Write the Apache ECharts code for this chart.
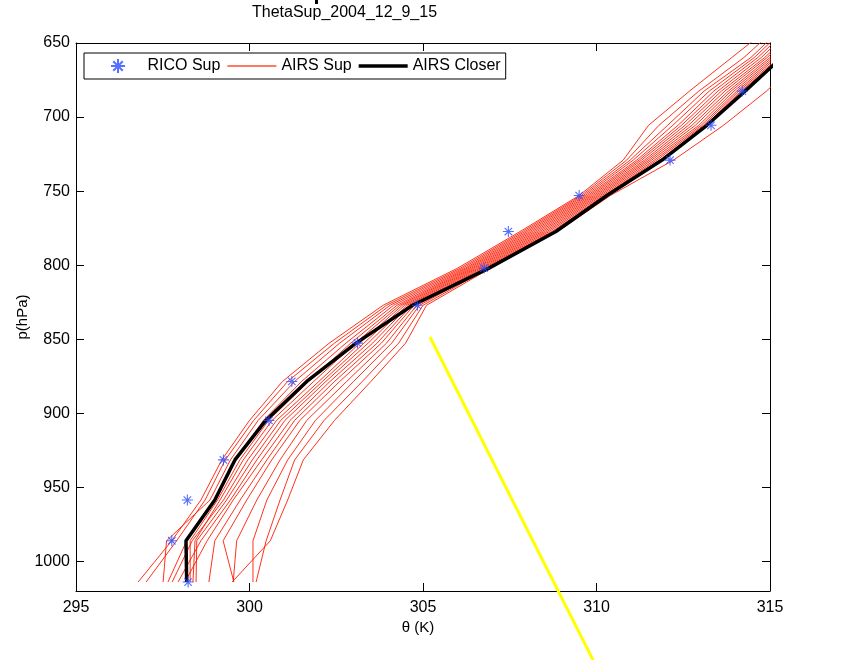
<!DOCTYPE html>
<html><head><meta charset="utf-8">
<script src="https://cdn.jsdelivr.net/npm/echarts@6/dist/echarts.min.js"></script>
<style>html,body{margin:0;padding:0;background:#fff}#c{width:844px;height:660px}</style>
</head><body><div id="c"></div>
<script>
// pressure levels (hPa)
const levels = [1013.95, 986.07, 958.59, 931.5, 904.81, 878.52, 852.61, 827.1, 802.0, 777.28, 752.97, 729.06, 705.57, 682.47, 659.79, 637.5];
// AIRS support profiles, theta (K) at each level
const airs01 = [296.79, 297.76, 298.6, 299.2, 300.0, 300.95, 302.3, 303.85, 306.0, 307.8, 309.5, 310.77, 311.5, 312.68, 313.9, 315.1];
const airs02 = [297.02, 297.9, 298.72, 299.3, 300.12, 301.1, 302.45, 303.95, 306.08, 307.87, 309.56, 310.87, 311.8, 312.95, 314.25, 315.3];
const airs03 = [297.51, 297.61, 298.86, 299.45, 300.25, 301.3, 302.6, 304.05, 306.15, 307.94, 309.62, 310.97, 312.05, 313.1, 314.45, 315.45];
const airs04 = [297.65, 298.19, 298.98, 299.6, 300.4, 301.5, 302.78, 304.15, 306.22, 308.01, 309.68, 311.06, 312.2, 313.25, 314.55, 315.55];
const airs05 = [298.29, 298.29, 299.08, 299.72, 300.55, 301.7, 302.92, 304.25, 306.28, 308.08, 309.74, 311.16, 312.35, 313.38, 314.65, 315.65];
const airs06 = [298.37, 298.43, 299.15, 299.82, 300.65, 301.85, 303.05, 304.33, 306.34, 308.15, 309.8, 311.23, 312.45, 313.5, 314.75, 315.75];
const airs07 = [297.77, 298.35, 299.25, 299.95, 300.78, 302.0, 303.18, 304.4, 306.4, 308.22, 309.86, 311.3, 312.55, 313.6, 314.85, 315.85];
const airs08 = [298.46, 298.48, 299.34, 300.08, 300.9, 302.1, 303.3, 304.47, 306.46, 308.29, 309.92, 311.38, 312.65, 313.7, 314.92, 315.92];
const airs09 = [297.94, 298.6, 299.45, 300.21, 301.02, 302.2, 303.42, 304.54, 306.52, 308.36, 309.98, 311.45, 312.75, 313.8, 315.0, 316.0];
const airs10 = [298.14, 298.78, 299.53, 300.35, 301.17, 302.32, 303.55, 304.6, 306.58, 308.43, 310.04, 311.52, 312.85, 313.88, 315.07, 316.07];
const airs11 = [298.83, 299.0, 299.73, 300.5, 301.3, 302.45, 303.68, 304.67, 306.64, 308.5, 310.1, 311.59, 312.95, 313.96, 315.14, 316.14];
const airs12 = [299.55, 299.24, 299.92, 300.64, 301.45, 302.6, 303.8, 304.74, 306.7, 308.57, 310.16, 311.67, 313.02, 314.04, 315.2, 316.2];
const airs13 = [299.53, 299.63, 300.21, 300.88, 301.65, 302.8, 303.95, 304.82, 306.76, 308.64, 310.22, 311.74, 313.08, 314.1, 315.27, 316.27];
const airs14 = [300.1, 300.1, 300.5, 301.1, 301.9, 303.0, 304.1, 304.9, 306.82, 308.71, 310.28, 311.82, 313.14, 314.16, 315.33, 316.33];
const airs15 = [300.19, 300.48, 300.88, 301.3, 302.15, 303.25, 304.3, 305.0, 306.88, 308.78, 310.34, 311.9, 313.2, 314.22, 315.4, 316.4];
const airs16 = [299.5, 300.6, 301.1, 301.55, 302.45, 303.5, 304.5, 305.1, 306.95, 308.88, 310.4, 312.22, 313.66, 314.9, 315.9, 316.9];
const airsSupList = [airs01, airs02, airs03, airs04, airs05, airs06, airs07, airs08, airs09, airs10, airs11, airs12, airs13, airs14, airs15, airs16];
// closest AIRS profile
const airsCloser = [298.19, 298.17, 299.0, 299.58, 300.47, 301.65, 303.07, 304.7, 306.9, 308.83, 310.3, 311.89, 313.18, 314.28, 315.33, 316.3];
// RICO sounding
const ricoTheta = [298.23, 297.76, 298.21, 299.25, 300.56, 301.22, 303.11, 304.84, 306.76, 307.46, 309.5, 312.12, 313.3, 314.2];
const ricoP = [1013.95, 986.07, 958.59, 931.5, 904.81, 878.52, 852.61, 827.1, 802.0, 777.28, 752.97, 729.06, 705.57, 682.47];
// stray yellow segment
const yellowTheta = [305.2, 310.19];
const yellowP = [848.5, 1080];

const FONT = '"Liberation Sans", Arial, Helvetica, sans-serif';
const pairs = (xs, ps) => xs.map((v, i) => [v, ps[i]]);
const starPath = 'path://M5,0L5,10M0,5L10,5M1.6,1.6L8.4,8.4M1.6,8.4L8.4,1.6';

const series = [];
airsSupList.forEach(arr => {
  series.push({
    type: 'line', name: 'AIRS Sup', data: pairs(arr, levels),
    symbol: 'none', lineStyle: { color: '#ff1a00', width: 0.9 }, itemStyle: { color: '#ff1a00' },
    z: 2, animation: false, silent: true
  });
});
series.push({
  type: 'line', name: 'AIRS Closer', data: pairs(airsCloser, levels),
  symbol: 'none', lineStyle: { color: '#000', width: 3.5 }, itemStyle: { color: '#000' },
  z: 3, animation: false
});
series.push({
  type: 'scatter', name: 'RICO Sup', data: pairs(ricoTheta, ricoP),
  symbol: starPath, symbolSize: 11,
  itemStyle: { color: '#2a4cff', borderColor: '#2a4cff', borderWidth: 1.1 },
  z: 4, animation: false
});
series.push({
  type: 'line', name: 'yellow', data: pairs(yellowTheta, yellowP), clip: false,
  symbol: 'none', lineStyle: { color: '#ffff00', width: 3 }, z: 5, animation: false, silent: true
});

const axisCommon = {
  axisLine: { onZero: false, lineStyle: { color: '#000', width: 1 } },
  axisTick: { inside: true, length: 8, lineStyle: { color: '#000' } },
  splitLine: { show: false }
};

const chart = echarts.init(document.getElementById('c'), null, { renderer: 'canvas' });
chart.setOption({
  backgroundColor: '#fff',
  animation: false,
  title: {
    text: 'ThetaSup_2004_12_9_15', left: 252, top: 5, padding: 0,
    textStyle: { fontSize: 16, fontWeight: 'normal', color: '#000', fontFamily: FONT }
  },
  graphic: [{ type: 'rect', shape: { x: 315, y: 0, width: 3, height: 4 }, style: { fill: '#000' } }],
  grid: { left: 76, top: 43, width: 694, height: 548 },
  legend: {
    left: 84, top: 53, orient: 'horizontal',
    itemWidth: 49, itemHeight: 14, itemGap: 7, padding: [5, 5, 5, 26],
    borderColor: '#000', borderWidth: 1, borderRadius: 0, backgroundColor: '#fff',
    textStyle: { fontSize: 16, color: '#000', fontFamily: FONT },
    data: [
      { name: 'RICO Sup' },
      { name: 'AIRS Sup', icon: 'path://M0,0H49V2H0Z', itemStyle: { color: '#ff7a66' } },
      { name: 'AIRS Closer', icon: 'path://M0,0H49V3.6H0Z', itemStyle: { color: '#000' } }
    ]
  },
  xAxis: [
    Object.assign({}, axisCommon, {
      type: 'value', min: 295, max: 315, interval: 5, position: 'bottom',
      axisLabel: { fontSize: 16, color: '#000', margin: 9, fontFamily: FONT },
      name: 'θ (K)', nameLocation: 'middle', nameGap: 29, nameMoveOverlap: false,
      nameTextStyle: { fontSize: 15, color: '#000', fontFamily: FONT, padding: [0, 10, 0, 0] }
    }),
    Object.assign({}, axisCommon, {
      type: 'value', min: 295, max: 315, interval: 5, position: 'top',
      axisLabel: { show: false }
    })
  ],
  yAxis: [
    Object.assign({}, axisCommon, {
      type: 'value', inverse: true, min: 650, max: 1020, interval: 50, position: 'left',
      axisLabel: { fontSize: 16, color: '#000', margin: 6, fontFamily: FONT,
        formatter: v => (v > 1000 ? '' : String(v)) },
      name: 'p(hPa)', nameLocation: 'middle', nameGap: 46, nameRotate: 90, nameMoveOverlap: false,
      nameTextStyle: { fontSize: 15, color: '#000', fontFamily: FONT }
    }),
    Object.assign({}, axisCommon, {
      type: 'value', inverse: true, min: 650, max: 1020, interval: 50, position: 'right',
      axisLabel: { show: false }
    })
  ],
  series: series
});
</script>
</body></html>
